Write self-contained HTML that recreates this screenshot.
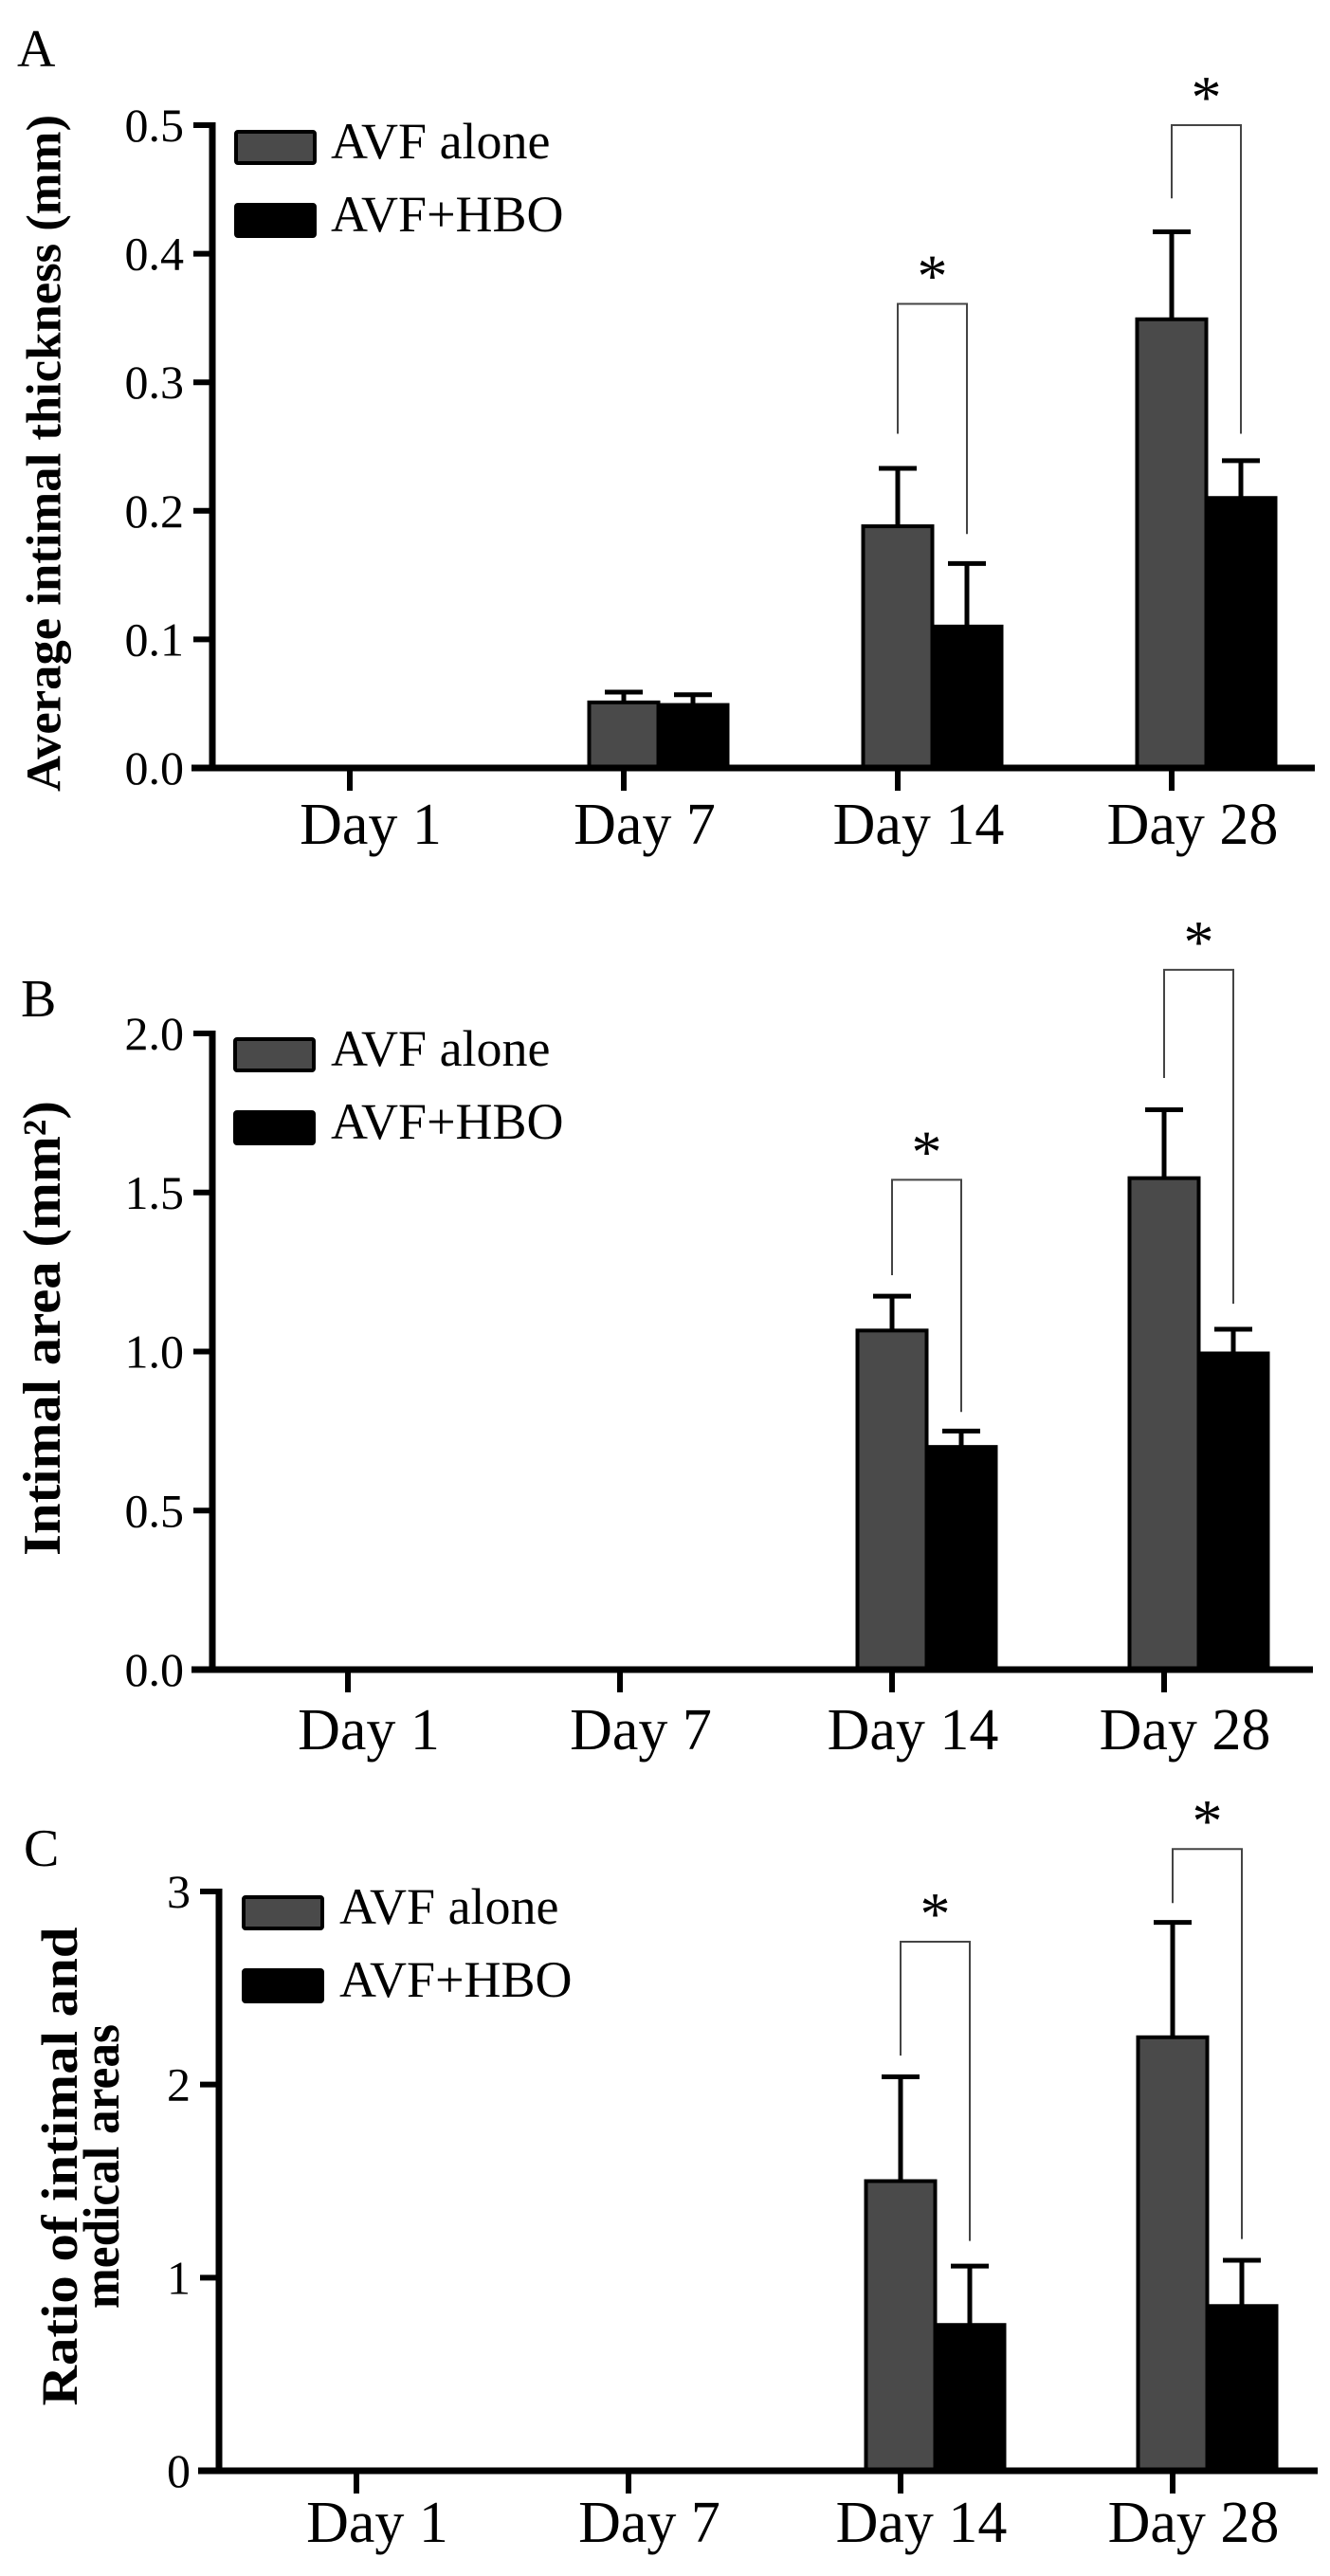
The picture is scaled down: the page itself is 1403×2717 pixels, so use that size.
<!DOCTYPE html>
<html><head><meta charset="utf-8"><style>
html,body{margin:0;padding:0;background:#fff;}
svg{display:block;font-family:"Liberation Serif",serif;}
</style></head><body>
<svg id="fig" width="1403" height="2717" viewBox="0 0 1403 2717"></svg>
<script>
const categories=["Day 1","Day 7","Day 14","Day 28"];
const seriesNames=["AVF alone","AVF+HBO"];
// Panel A
const aAvf=[0,0.051,0.188,0.349];
const aAvfErr=[0,0.008,0.045,0.068];
const aHbo=[0,0.049,0.110,0.210];
const aHboErr=[0,0.008,0.049,0.029];
const aTicks=[0,0.1,0.2,0.3,0.4,0.5];
const aTickLabels=["0.0","0.1","0.2","0.3","0.4","0.5"];
const aBrTop=[null,null,0.361,0.5];
const aBrLeft=[null,null,0.26,0.443];
const aBrRight=[null,null,0.182,0.26];
// Panel B
const bAvf=[0,0,1.066,1.545];
const bAvfErr=[0,0,0.108,0.215];
const bHbo=[0,0,0.70,0.994];
const bHboErr=[0,0,0.05,0.076];
const bTicks=[0,0.5,1.0,1.5,2.0];
const bTickLabels=["0.0","0.5","1.0","1.5","2.0"];
const bBrTop=[null,null,1.54,2.20];
const bBrLeft=[null,null,1.24,1.86];
const bBrRight=[null,null,0.81,1.15];
// Panel C
const cAvf=[0,0,1.50,2.245];
const cAvfErr=[0,0,0.54,0.595];
const cHbo=[0,0,0.755,0.853];
const cHboErr=[0,0,0.305,0.237];
const cTicks=[0,1,2,3];
const cTickLabels=["0","1","2","3"];
const cBrTop=[null,null,2.74,3.22];
const cBrLeft=[null,null,2.15,2.94];
const cBrRight=[null,null,1.19,1.20];

const NS="http://www.w3.org/2000/svg";
const svg=document.getElementById('fig');
function mk(tag,attrs,parent,txt){const e=document.createElementNS(NS,tag);for(const k in attrs)e.setAttribute(k,attrs[k]);if(txt!==undefined)e.textContent=txt;(parent||svg).appendChild(e);return e;}

const panels=[
 {id:'a',letter:'A',lx:18,ly:70,axisX:224,y0:810,yTop:132,yMax:0.5,x0:369,step:289,xEnd:1387,dayBase:890,
  avf:aAvf,avfErr:aAvfErr,hbo:aHbo,hboErr:aHboErr,ticks:aTicks,tickLabels:aTickLabels,brTop:aBrTop,brL:aBrLeft,brR:aBrRight,
  legX:247,legY:137,legText:349,titles:[{t:"Average intimal thickness (mm)",x:47,len:714,fs:52}],tcy:478},
 {id:'b',letter:'B',lx:22,ly:1072,axisX:224,y0:1761,yTop:1090,yMax:2.0,x0:367,step:287,xEnd:1385,dayBase:1845,
  avf:bAvf,avfErr:bAvfErr,hbo:bHbo,hboErr:bHboErr,ticks:bTicks,tickLabels:bTickLabels,brTop:bBrTop,brL:bBrLeft,brR:bBrRight,
  legX:246,legY:1094,legText:349,titles:[{t:"Intimal area (mm²)",x:45,len:480,fs:56}],tcy:1401},
 {id:'c',letter:'C',lx:25,ly:1968,axisX:231,y0:2606,yTop:1995,yMax:3,x0:376,step:287,xEnd:1390,dayBase:2681,
  avf:cAvf,avfErr:cAvfErr,hbo:cHbo,hboErr:cHboErr,ticks:cTicks,tickLabels:cTickLabels,brTop:cBrTop,brL:cBrLeft,brR:cBrRight,
  legX:255,legY:1999,legText:358,titles:[{t:"Ratio of intimal and",x:63,len:505,fs:54},{t:"medical areas",x:107,len:300,fs:54}],tcy:2285}
];

panels.forEach(p=>{
  const g=mk('g',{});
  
  
  const ys=v=>p.y0-(v/p.yMax)*(p.y0-p.yTop);
  const xs=i=>p.x0+i*p.step;
  const lt=mk('text',{x:p.lx,y:p.ly,'font-size':56},g,p.letter);
  
  
  p.titles.forEach((t,k)=>{
    const e=mk('text',{x:0,y:0,'font-size':t.fs,'font-weight':'bold','text-anchor':'middle','dominant-baseline':'central',
      transform:`translate(${t.x},${p.tcy}) rotate(-90)`,textLength:t.len,lengthAdjust:'spacingAndGlyphs'},g,t.t);
    
    
  });
  const bw=73;
  categories.forEach((c,i)=>{
    const cx=xs(i);
    const drawBar=(v,err,x,fill,nm)=>{
      if(!v) return;
      const y=ys(v);
      const r=mk('rect',{x:x,y:y,width:bw,height:p.y0-y,fill:fill,stroke:'#000','stroke-width':4},g);
      
      
      const ex=x+bw/2, ey=ys(v+err);
      const el=mk('path',{d:`M${ex},${y} V${ey} M${ex-20},${ey} H${ex+20}`,stroke:'#000','stroke-width':5,fill:'none'},g);
      
      
    };
    drawBar(p.avf[i],p.avfErr[i],cx-bw/2,'#4a4a4a','avf');
    drawBar(p.hbo[i],p.hboErr[i],cx+bw/2,'#000','hbo');
    if(p.brTop[i]!=null){
      const xl=cx, xr=cx+bw, yt=ys(p.brTop[i]);
      const br=mk('path',{d:`M${xl},${ys(p.brL[i])} V${yt} H${xr} V${ys(p.brR[i])}`,stroke:'#444','stroke-width':2,fill:'none'},g);
      
      
      const st=mk('text',{x:(xl+xr)/2,y:yt-8,'font-size':64,'text-anchor':'middle'},g,'*');
      
      
    }
  });
  const ya=mk('line',{x1:p.axisX,y1:p.y0+2,x2:p.axisX,y2:p.yTop-3,stroke:'#000','stroke-width':7},g);
  
  
  const xa=mk('line',{x1:p.axisX-22,y1:p.y0,x2:p.xEnd,y2:p.y0,stroke:'#000','stroke-width':7},g);
  
  
  p.ticks.forEach((v,k)=>{
    const y=ys(v);
    const tm=mk('line',{x1:p.axisX-20,y1:y,x2:p.axisX,y2:y,stroke:'#000','stroke-width':6},g);
    
    
    const tl=mk('text',{x:p.axisX-30,y:y+17,'font-size':50,'text-anchor':'end'},g,p.tickLabels[k]);
    
    
  });
  categories.forEach((c,i)=>{
    const x=xs(i);
    const tm=mk('line',{x1:x,y1:p.y0,x2:x,y2:p.y0+24,stroke:'#000','stroke-width':6},g);
    
    
    const tl=mk('text',{x:x+22,y:p.dayBase,'font-size':62,'text-anchor':'middle'},g,c);
    
    
  });
  const fills=['#4a4a4a','#000'];
  seriesNames.forEach((s,k)=>{
    const y=p.legY+k*77;
    const lg=mk('g',{},g);
    
    
    mk('rect',{x:p.legX+2,y:y+2,width:83,height:33,fill:fills[k],stroke:'#000','stroke-width':4,rx:2},lg);
    mk('text',{x:p.legText,y:y+30,'font-size':54},lg,s);
  });
});
</script>
</body></html>
